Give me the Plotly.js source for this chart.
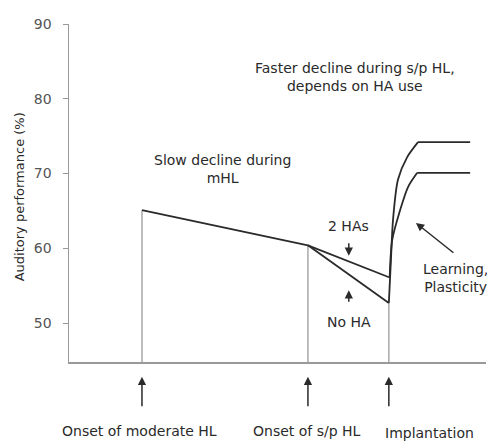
<!DOCTYPE html>
<html>
<head>
<meta charset="utf-8">
<script src="https://cdn.plot.ly/plotly-3.0.1.min.js"></script>
<style>html,body{margin:0;padding:0;background:#fff;}#chart{width:487px;height:442px;}</style>
</head>
<body>
<div id="chart"></div>
<script>
// Event times (arbitrary time units)
const eventNames = ["Onset of moderate HL", "Onset of s/p HL", "Implantation"];
const eventX = [17.5, 57.3, 76.7];
const eventTopY = [65.1, 60.4, 52.7];

// Slow decline during mHL
const mhlX = [17.5, 57.3];
const mhlY = [65.1, 60.4];
// s/p HL with 2 HAs
const twoHaX = [57.3, 76.9];
const twoHaY = [60.4, 56.1];
// s/p HL with no HA
const noHaX = [57.3, 76.7];
const noHaY = [60.4, 52.7];
// recovery after implantation (rise, then plateau)
const upperX = [76.7, 77.2, 77.7, 78.9, 81.1, 83.7, 96.2];
const upperY = [52.7, 58.4, 63.8, 69.2, 72.2, 74.2, 74.2];
const lowerX = [76.9, 77.5, 79.4, 81.3, 83.5, 96.2];
const lowerY = [56.1, 61.1, 65.1, 68.2, 70.1, 70.1];

const yTicks = [50, 60, 70, 80, 90];
const yMin = 44.8, yMax = 90;

const lineColor = "#2a2a2a";
const gridColor = "#a8a8a8";
const font = "DejaVu Sans, Verdana, sans-serif";
const txt = "#2a2a2a";

const traces = [];
eventX.forEach((x, i) => {
  traces.push({x: [x, x], y: [yMin, eventTopY[i]], mode: "lines",
    line: {color: gridColor, width: 1.5}, hoverinfo: "skip", showlegend: false});
});
[[mhlX, mhlY], [twoHaX, twoHaY], [noHaX, noHaY]].forEach(([x, y]) => {
  traces.push({x: x, y: y, mode: "lines", line: {color: lineColor, width: 1.8}, showlegend: false});
});
[[upperX, upperY], [lowerX, lowerY]].forEach(([x, y]) => {
  const n = x.length;
  traces.push({x: x.slice(0, n - 1), y: y.slice(0, n - 1), mode: "lines",
    line: {color: lineColor, width: 1.8, shape: "spline", smoothing: 0.8}, showlegend: false});
  traces.push({x: x.slice(n - 2), y: y.slice(n - 2), mode: "lines",
    line: {color: lineColor, width: 1.8}, showlegend: false});
});

const ann = [];
function textAnn(text, x, y, opts) {
  ann.push(Object.assign({text: text, x: x, y: y, xref: "x", yref: "paper", showarrow: false,
    xanchor: "center", yanchor: "middle",
    font: {family: font, size: 14, color: txt}, align: "center"}, opts || {}));
}
function arrowAnn(x, y, ax, ay, yref) {
  ann.push({text: "", x: x, y: y, xref: "x", yref: yref || "y", ax: ax, ay: ay, showarrow: true,
    arrowhead: 2, arrowsize: 1.1, arrowwidth: 1.5, arrowcolor: lineColor});
}

textAnn("Faster decline during s/p HL,<br>depends on HA use", 68.6, 0.843);
textAnn("Slow decline during<br>mHL", 36.9, 0.571);
textAnn("2 HAs", 67.1, 0.402);
textAnn("No HA", 67.1, 0.118);
textAnn("Learning,<br>Plasticity", 92.6, 0.249);
arrowAnn(67.1, 59.0, 0, -14);
arrowAnn(67.1, 54.4, 0, 13);
arrowAnn(83.2, 63.4, 39, 31);

eventX.forEach((x) => arrowAnn(x, -0.044, 0, 31, "paper"));
textAnn(eventNames[0], 17.0, -0.204);
textAnn(eventNames[1], 57.1, -0.204);
textAnn(eventNames[2], 75.3, -0.21, {xanchor: "left"});

// y-axis title
ann.push({text: "Auditory performance (%)", xref: "paper", yref: "paper", x: -0.120, y: 0.49,
  xanchor: "center", yanchor: "middle",
  textangle: -90, showarrow: false, font: {family: font, size: 13, color: txt}});

const layout = {
  width: 487, height: 442,
  margin: {l: 69, r: 1, t: 24, b: 80},
  paper_bgcolor: "#fff", plot_bgcolor: "#fff",
  showlegend: false,
  xaxis: {range: [0, 100], showgrid: false, zeroline: false, showticklabels: false, ticks: "",
    showline: true, linecolor: "#999", linewidth: 1.5},
  yaxis: {range: [yMin, yMax], tickvals: yTicks, ticktext: yTicks.map(String), showgrid: false, zeroline: false,
    showline: true, linecolor: "#999", linewidth: 1.5, ticks: "outside", ticklen: 5, tickcolor: "#999",
    ticklabelstandoff: 8, tickfont: {family: font, size: 14, color: "#555"}},
  annotations: ann
};
Plotly.newPlot("chart", traces, layout, {staticPlot: true});
</script>
</body>
</html>
